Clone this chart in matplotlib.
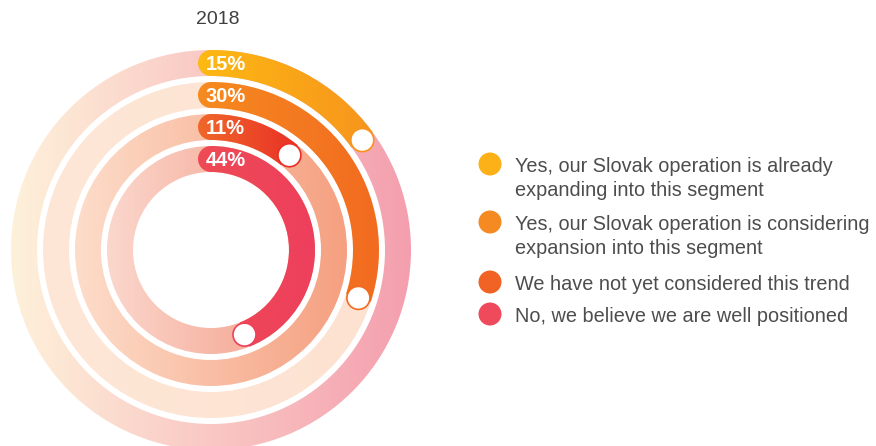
import numpy as np
import matplotlib
matplotlib.use("Agg")
import matplotlib.pyplot as plt
from matplotlib.patches import Wedge, Circle
from matplotlib.colors import LinearSegmentedColormap

# ---- data ----
title = "2018"
categories = [
    "Yes, our Slovak operation is already\nexpanding into this segment",
    "Yes, our Slovak operation is considering\nexpansion into this segment",
    "We have not yet considered this trend",
    "No, we believe we are well positioned",
]
values = [15, 30, 11, 44]
value_labels = ["15%", "30%", "11%", "44%"]

# ---- styles ----
arc_colors = [("#FDB913", "#F7941D"), ("#F68B1F", "#F26B21"),
              ("#F0672A", "#E92E26"), ("#EE4B55", "#EE3F5D")]
bg_colors = [("#FEF1DA", "#F49FAE"), ("#FEE7D6", "#FDE2D2"),
             ("#FDDDCA", "#F5A080"), ("#FBD7CD", "#F39A83")]
legend_colors = ["#FBB117", "#F48A21", "#F06325", "#EE4A5C"]
text_color = "#4D4D4D"
FONT = ["Liberation Sans", "DejaVu Sans"]

W, H = 876, 446
fig = plt.figure(figsize=(W / 100, H / 100), dpi=100)
ax = fig.add_axes([0, 0, 1, 1])

cx, cy = 211, H - 250
ring_w = 26
step = 32
R0 = 200


def gradient(x0, x1, y0, y1, c0, c1, clip, z):
    cmap = LinearSegmentedColormap.from_list("g", [c0, c1])
    im = ax.imshow(np.linspace(0, 1, 256)[None, :], cmap=cmap,
                   extent=(x0, x1, y0, y1), aspect="auto", origin="lower",
                   interpolation="bilinear", zorder=z)
    clip.set_transform(ax.transData)
    im.set_clip_path(clip)


for i, (v, lab) in enumerate(zip(values, value_labels)):
    Ro = R0 - step * i
    Rm = Ro - ring_w / 2
    # background ring
    gradient(cx - Ro, cx + Ro, cy - Ro, cy + Ro, *bg_colors[i],
             Wedge((cx, cy), Ro, 0, 360, width=ring_w), 1)
    # value arc (clockwise from 12 o'clock)
    ang = v * 3.6
    x1 = cx + (Ro if ang >= 90 else Rm * np.sin(np.radians(ang)) + ring_w / 2)
    x0 = cx - ring_w / 2
    gradient(x0, x1, cy - Ro, cy + Ro, *arc_colors[i],
             Wedge((cx, cy), Ro, 90 - ang, 90, width=ring_w), 2)
    gradient(x0, x1, cy - Ro, cy + Ro, *arc_colors[i],
             Circle((cx, cy + Rm), ring_w / 2), 2)
    # end marker
    ex = cx + Rm * np.sin(np.radians(ang))
    ey = cy + Rm * np.cos(np.radians(ang))
    ax.add_patch(Circle((ex, ey), 11.5, facecolor="white",
                        edgecolor=arc_colors[i][1], lw=1.2, zorder=3))
    ax.text(cx - 5, cy + Rm, lab, color="white", fontsize=14.5,
            fontweight="bold", family=FONT, ha="left", va="center_baseline",
            zorder=4)

ax.text(218, H - 20, title, ha="center", va="center", fontsize=14,
        color="#404040", family=FONT)

# legend
leg_y = [164, 222, 282, 314]
for y, cat, col in zip(leg_y, categories, legend_colors):
    ax.add_patch(Circle((490, H - y), 11.5, facecolor=col, edgecolor="none",
                        zorder=3))
    for k, line in enumerate(cat.split("\n")):
        ax.text(515, H - y - 24 * k, line, ha="left", va="center_baseline",
                fontsize=14.3, color=text_color, family=FONT)

ax.set_xlim(0, W)
ax.set_ylim(0, H)
ax.axis("off")
fig.savefig("out.png", dpi=100)
